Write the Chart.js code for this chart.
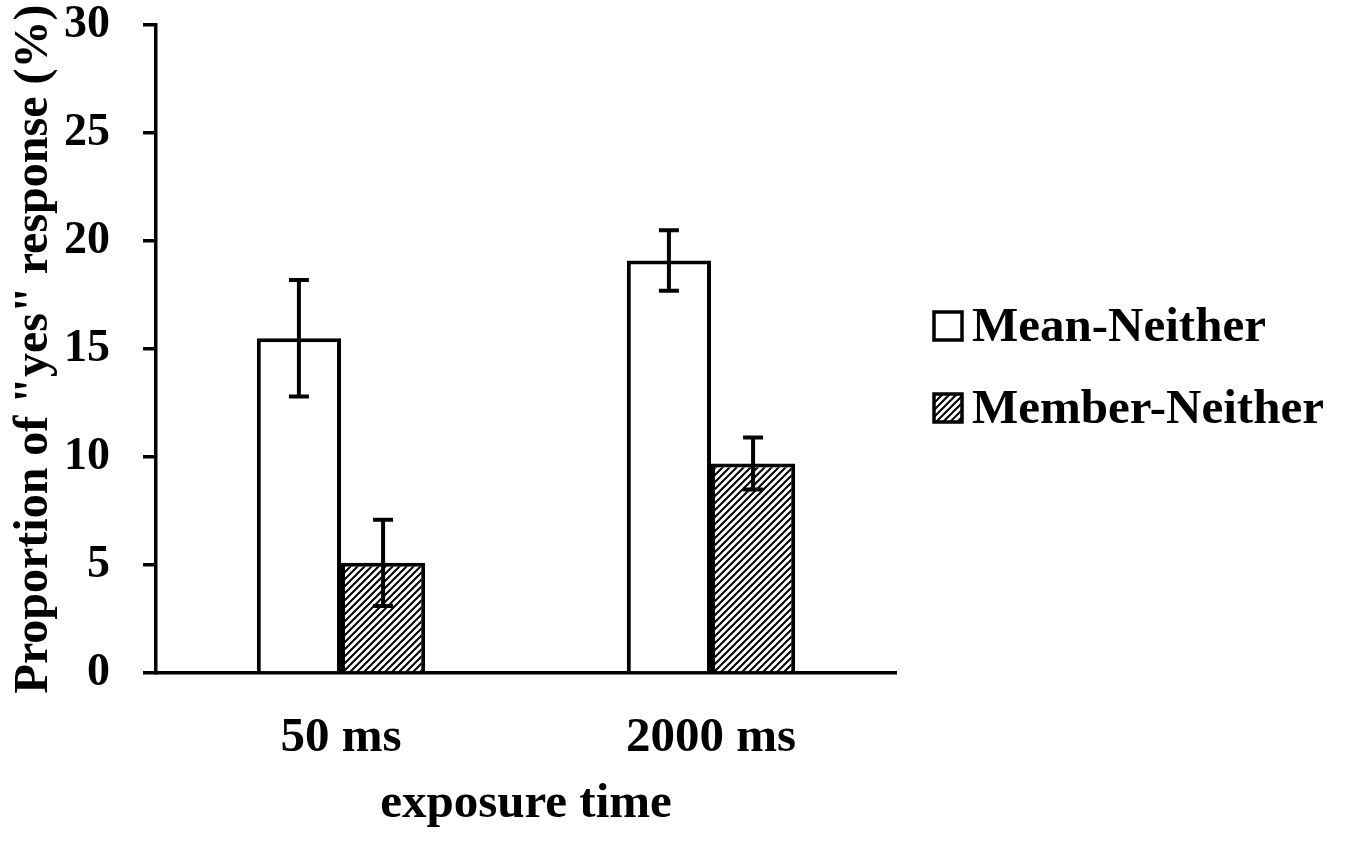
<!DOCTYPE html>
<html>
<head>
<meta charset="utf-8">
<script src="https://cdn.jsdelivr.net/npm/chart.js@4"></script>
<style>
  html, body { margin: 0; padding: 0; background: #fff; }
  #wrap { width: 1349px; height: 842px; }
</style>
</head>
<body>
<div id="wrap"><canvas id="chart"></canvas></div>
<script>
const categories = ['50 ms', '2000 ms'];
const mean_neither = [15.5, 19.1];
const mean_neither_err = [2.7, 1.4];
const member_neither = [5.1, 9.7];
const member_neither_err = [2.0, 1.2];
const y_ticks = [0, 5, 10, 15, 20, 25, 30];

const FONT = '"Liberation Serif", "Times New Roman", serif';
const TICK_SIZE = 46;
const TEXT_SIZE = 49;

function make_hatch() {
    const c = document.createElement('canvas');
    const s = 7;
    c.width = s;
    c.height = s;
    const ctx = c.getContext('2d');
    ctx.fillStyle = '#fff';
    ctx.fillRect(0, 0, s, s);
    ctx.strokeStyle = '#000';
    ctx.lineWidth = 2;
    ctx.beginPath();
    ctx.moveTo(-1, s + 1); ctx.lineTo(s + 1, -1);
    ctx.moveTo(-1, 1); ctx.lineTo(1, -1);
    ctx.moveTo(s - 1, s + 1); ctx.lineTo(s + 1, s - 1);
    ctx.stroke();
    return ctx.createPattern(c, 'repeat');
}

// error bars from the dataset's own values and the y scale
const error_bars = {
    id: 'error_bars',
    afterDatasetsDraw(chart) {
        const ctx = chart.ctx;
        const y = chart.scales.y;
        ctx.save();
        ctx.strokeStyle = '#000';
        ctx.lineWidth = 4;
        chart.data.datasets.forEach((ds, i) => {
            const meta = chart.getDatasetMeta(i);
            meta.data.forEach((bar, j) => {
                const v = ds.data[j];
                const e = ds.errors[j];
                const top = y.getPixelForValue(v + e);
                const bottom = y.getPixelForValue(v - e);
                const cap = 10;
                ctx.beginPath();
                ctx.moveTo(bar.x, top); ctx.lineTo(bar.x, bottom);
                ctx.moveTo(bar.x - cap, top); ctx.lineTo(bar.x + cap, top);
                ctx.moveTo(bar.x - cap, bottom); ctx.lineTo(bar.x + cap, bottom);
                ctx.stroke();
            });
        });
        ctx.restore();
    }
};

// legend on the right, drawn by hand so it is not squeezed by the layout
const side_legend = {
    id: 'side_legend',
    afterDraw(chart) {
        const ctx = chart.ctx;
        const area = chart.chartArea;
        const box = 28;
        const x0 = area.right + 38;
        const mid = (area.top + area.bottom) / 2 + 18;
        const rows = chart.data.datasets.length;
        const gap = 82;
        ctx.save();
        ctx.font = 'bold ' + TEXT_SIZE + 'px ' + FONT;
        ctx.textBaseline = 'middle';
        chart.data.datasets.forEach((ds, i) => {
            const cy = mid + (i - (rows - 1) / 2) * gap;
            ctx.fillStyle = ds.backgroundColor;
            ctx.fillRect(x0, cy - box / 2, box, box);
            ctx.strokeStyle = '#000';
            ctx.lineWidth = 3.5;
            ctx.strokeRect(x0, cy - box / 2, box, box);
            ctx.fillStyle = '#000';
            ctx.fillText(ds.label, x0 + box + 10, cy + 2);
        });
        ctx.restore();
    }
};

new Chart('chart', {
    type: 'bar',
    data: {
        labels: categories,
        datasets: [{
            label: 'Mean-Neither',
            data: mean_neither,
            errors: mean_neither_err,
            backgroundColor: '#fff',
            borderColor: '#000',
            borderWidth: 4
        }, {
            label: 'Member-Neither',
            data: member_neither,
            errors: member_neither_err,
            backgroundColor: make_hatch(),
            borderColor: '#000',
            borderWidth: 4
        }]
    },
    options: {
        animation: false,
        responsive: true,
        maintainAspectRatio: false,
        layout: {
            padding: { top: 25, left: 8, right: 453, bottom: 8 }
        },
        datasets: {
            bar: {
                barPercentage: 1,
                categoryPercentage: 0.455,
                borderSkipped: 'bottom'
            }
        },
        scales: {
            x: {
                afterFit: (axis) => {
                    axis.height = 161;
                    axis.paddingLeft = 0;
                    axis.paddingRight = 0;
                },
                grid: { display: false },
                border: { color: '#000', width: 3.5 },
                ticks: {
                    color: '#000',
                    padding: 28,
                    font: { family: FONT, size: TEXT_SIZE, weight: 'bold' }
                },
                title: {
                    display: true,
                    text: 'exposure time',
                    color: '#000',
                    padding: { top: 0, bottom: 0 },
                    font: { family: FONT, size: TEXT_SIZE, weight: 'bold' }
                }
            },
            y: {
                min: 0,
                max: 30,
                afterBuildTicks: (axis) => {
                    axis.ticks = y_ticks.map(v => ({ value: v }));
                },
                afterFit: (axis) => {
                    axis.width = 148;
                    axis.paddingTop = 0;
                    axis.paddingBottom = 0;
                },
                grid: {
                    drawOnChartArea: false,
                    drawTicks: true,
                    tickLength: 13,
                    color: '#000',
                    lineWidth: 3.5
                },
                border: { color: '#000', width: 3.5 },
                ticks: {
                    color: '#000',
                    padding: 33,
                    font: { family: FONT, size: TICK_SIZE, weight: 'bold' }
                },
                title: {
                    display: true,
                    text: 'Proportion of "yes" response (%)',
                    color: '#000',
                    padding: { top: -2, bottom: 0 },
                    font: { family: FONT, size: 48, weight: 'bold' }
                }
            }
        },
        plugins: {
            legend: { display: false },
            tooltip: { enabled: false }
        }
    },
    plugins: [error_bars, side_legend]
});
</script>
</body>
</html>
